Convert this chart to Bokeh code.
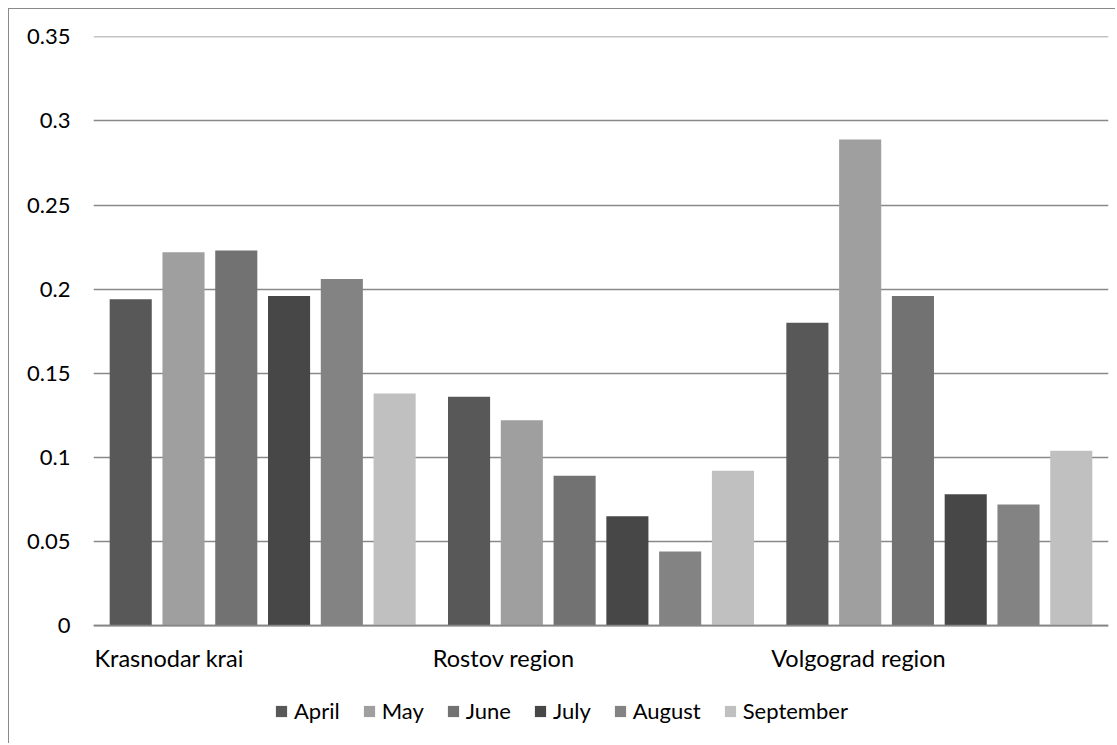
from bokeh.plotting import figure
from bokeh.models import FactorRange, Range1d, FixedTicker, ColumnDataSource, LabelSet, Span
from bokeh.transform import dodge
from bokeh.core.properties import value
from bokeh.embed import file_html
from bokeh.resources import INLINE

regions = ["Krasnodar krai", "Rostov region", "Volgograd region"]
months = ["April", "May", "June", "July", "August", "September"]
april = [0.194, 0.136, 0.180]
may = [0.222, 0.122, 0.289]
june = [0.223, 0.089, 0.196]
july = [0.196, 0.065, 0.078]
august = [0.206, 0.044, 0.072]
september = [0.138, 0.092, 0.104]
colors = ["#585858", "#9f9f9f", "#727272", "#474747", "#838383", "#c0c0c0"]
yticks = [0, 0.05, 0.1, 0.15, 0.2, 0.25, 0.3, 0.35]
ytick_labels = ["0", "0.05", "0.1", "0.15", "0.2", "0.25", "0.3", "0.35"]

FONT = "Lato"
FS = "22px"

src = ColumnDataSource(dict(region=regions, April=april, May=may, June=june,
                            July=july, August=august, September=september))

# frame extends below zero so that category labels and legend sit inside it
p = figure(width=1107, height=735, output_backend="svg", toolbar_location=None,
           x_range=FactorRange(*regions, range_padding=0),
           y_range=Range1d(-0.0707, 0.3502),
           min_border_left=84, min_border_right=8, min_border_top=27, min_border_bottom=0)
p.styles = {"margin-left": "8px", "margin-top": "8px",
            "border-left": "1px solid #8a8a8a", "border-top": "1px solid #8a8a8a"}

pitch = 0.156
barw = 0.1244
for k, (m, c) in enumerate(zip(months, colors)):
    p.vbar(x=dodge("region", (k - 2.5) * pitch, range=p.x_range), top=m, width=barw,
           source=src, fill_color=c, line_color=None, legend_label=m)

p.outline_line_color = None
p.xgrid.visible = False
p.ygrid.ticker = FixedTicker(ticks=yticks)
p.ygrid.grid_line_color = "#898989"
p.ygrid.grid_line_width = 1.3

p.add_layout(Span(location=0, dimension="width", line_color="#868686", line_width=1.8))

p.yaxis.ticker = FixedTicker(ticks=yticks)
p.yaxis.major_label_overrides = dict(zip(yticks, ytick_labels))
p.yaxis.axis_line_color = None
p.yaxis.major_tick_line_color = None
p.yaxis.minor_tick_line_color = None
p.yaxis.major_tick_out = 0
p.yaxis.major_label_standoff = 23
p.yaxis.major_label_text_font = FONT
p.yaxis.major_label_text_font_size = FS
p.yaxis.major_label_text_color = "#000000"

p.xaxis.visible = False

labels = LabelSet(x=dodge("region", -0.5, range=p.x_range), y=value(-0.019), text="region",
                  source=src, text_align="left", text_baseline="middle", x_offset=1,
                  text_font=value(FONT), text_font_size="23.5px", text_color="#000000")
p.add_layout(labels)

lg = p.legend[0]
lg.orientation = "horizontal"
lg.location = (181, 20)
lg.padding = 0
lg.margin = 0
lg.spacing = 22
lg.glyph_width = 14
lg.glyph_height = 14
lg.label_height = 14
lg.label_standoff = 6
lg.label_text_font = FONT
lg.label_text_font_size = FS
lg.label_text_color = "#000000"
lg.border_line_color = None
lg.background_fill_alpha = 0

open("out.html", "w").write(file_html(p, INLINE))
